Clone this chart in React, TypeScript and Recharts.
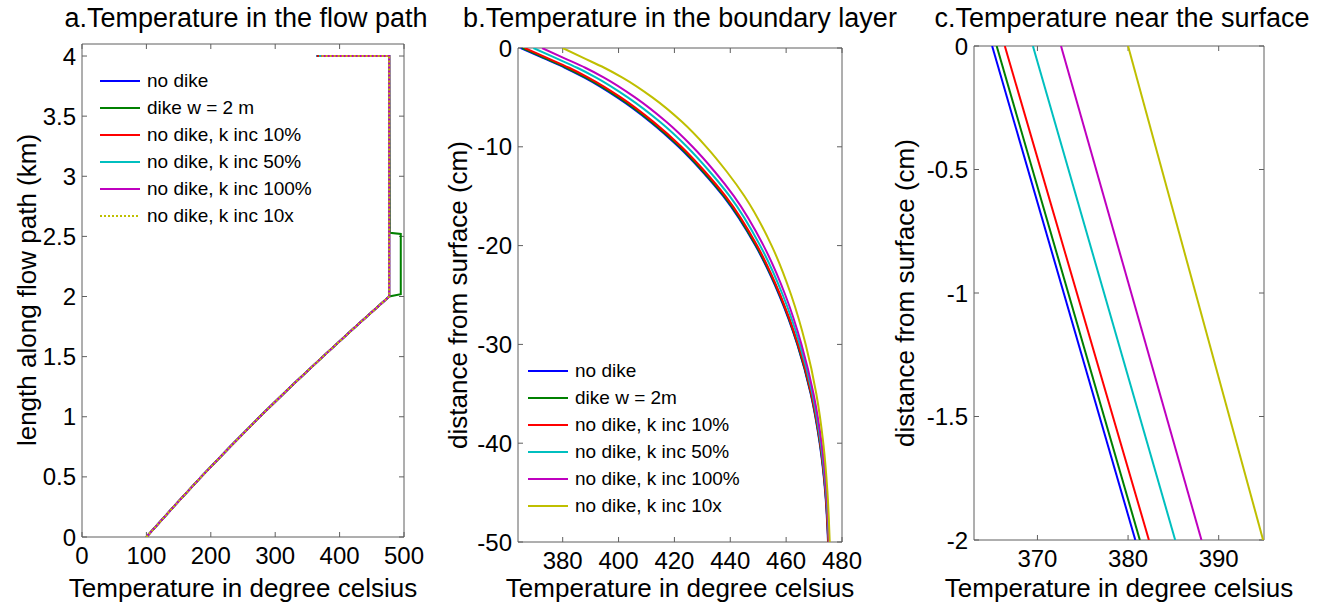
import React from 'react'
import { ScatterChart, Scatter, XAxis, YAxis } from 'recharts'

// Three side-by-side Matlab-style panels of temperature profiles.

const FONT = '"Liberation Sans", Arial, Helvetica, sans-serif'
const AXIS = '#5f5f5f'

const seriesNamesA = ['no dike', 'dike w = 2 m', 'no dike, k inc 10%', 'no dike, k inc 50%', 'no dike, k inc 100%', 'no dike, k inc 10x']
const seriesNamesB = ['no dike', 'dike w = 2m', 'no dike, k inc 10%', 'no dike, k inc 50%', 'no dike, k inc 100%', 'no dike, k inc 10x']
const seriesColors = ['#0000ff', '#008000', '#ff0000', '#00bfbf', '#bf00bf', '#bfbf00']

// ── a. flow path: temperature (°C) against length along path (km) ────────────
const flowKm = [0, 0.25, 0.5, 0.75, 1, 1.25, 1.5, 1.75, 2.0, 4.0, 4.0]
const flowT = [100, 142, 185, 230, 276, 324, 374, 425, 477, 477]
// temperature where each run ends on the top segment (km 4)
const flowTopEndT = [364, 364.5, 365.5, 368, 371, 372]
// the dike run bulges out between 2.0 and 2.5 km
const dikeKm = [0, 0.25, 0.5, 0.75, 1, 1.25, 1.5, 1.75, 2.0, 2.02, 2.52, 2.53, 4.0, 4.0]
const dikeT = [100, 142, 185, 230, 276, 324, 374, 425, 477, 495, 495, 478, 477, 364.5]

const xTicksA = [0, 100, 200, 300, 400, 500]
const yTicksA = [0, 0.5, 1, 1.5, 2, 2.5, 3, 3.5, 4]

// ── b. boundary layer: temperature against depth (cm) ────────────────────────
const depthB = [0, -1, -2, -3, -5, -7.5, -10, -12.5, -15, -20, -25, -30, -35, -40, -45, -50]
const layerNoDike = [365.0, 372.9, 380.8, 387.8, 399.5, 411.5, 421.5, 430.0, 437.5, 449.0, 457.5, 464.0, 468.8, 472.0, 474.0, 475.0]
const layerDike = [365.5, 373.4, 381.3, 388.3, 400.0, 411.9, 421.9, 430.3, 437.8, 449.2, 457.7, 464.1, 468.9, 472.1, 474.1, 475.1]
const layerK10 = [366.4, 374.4, 382.3, 389.2, 400.8, 412.6, 422.5, 430.9, 438.3, 449.6, 457.9, 464.3, 469.0, 472.2, 474.1, 475.1]
const layerK50 = [369.5, 377.4, 385.2, 392.0, 403.3, 414.9, 424.5, 432.6, 439.8, 450.7, 458.8, 464.9, 469.4, 472.4, 474.3, 475.3]
const layerK100 = [372.6, 380.3, 388.1, 394.8, 405.9, 417.2, 426.5, 434.4, 441.3, 451.9, 459.7, 465.5, 469.8, 472.7, 474.5, 475.4]
const layerK10x = [380.0, 387.4, 394.9, 401.4, 412.1, 422.8, 431.4, 438.7, 445.1, 454.8, 461.8, 467.0, 470.8, 473.3, 474.8, 475.6]

const xTicksB = [380, 400, 420, 440, 460, 480]
const yTicksB = [0, -10, -20, -30, -40, -50]

// ── c. near the surface ───────────────────────────────────────────────────────
const depthC = [0, -2]
const surfNoDike = [365.0, 380.8]
const surfDike = [365.5, 381.3]
const surfK10 = [366.4, 382.3]
const surfK50 = [369.5, 385.2]
const surfK100 = [372.6, 388.1]
const surfK10x = [380.0, 394.9]

const xTicksC = [370, 380, 390]
const yTicksC = [0, -0.5, -1, -1.5, -2]

type Pt = { x: number; y: number }
type Series = { name: string; color: string; dash?: string; points: Pt[] }
type Box = { left: number; right: number; top: number; bottom: number }

const zip = (xs: number[], ys: number[]): Pt[] => xs.map((x, i) => ({ x, y: ys[i] }))

const flowSeries: Series[] = seriesNamesA.map((name, i) => ({
  name,
  color: seriesColors[i],
  dash: i === 5 ? '2 2' : undefined,
  points: i === 1 ? zip(dikeT, dikeKm) : zip([...flowT, flowTopEndT[i]], flowKm),
}))

const layerSeries: Series[] = [layerNoDike, layerDike, layerK10, layerK50, layerK100, layerK10x].map((t, i) => ({
  name: seriesNamesB[i],
  color: seriesColors[i],
  points: zip(t, depthB),
}))

const surfSeries: Series[] = [surfNoDike, surfDike, surfK10, surfK50, surfK100, surfK10x].map((t, i) => ({
  name: seriesNamesB[i],
  color: seriesColors[i],
  points: zip(t, depthC),
}))

const EmptyShape = () => <g />
const NoLabel = () => <g />

interface PanelProps {
  box: Box
  xDomain: [number, number]
  yDomain: [number, number]
  xTicks: number[]
  yTicks: number[]
  series: Series[]
  curve?: 'linear' | 'monotoneY'
}

function Panel({ box, xDomain, yDomain, xTicks, yTicks, series, curve = 'linear' }: PanelProps) {
  const leftW = 80, rightW = 30, topH = 10, bottomH = 40
  const width = box.right - box.left + leftW + rightW
  const tickStyle = { fill: '#000', fontSize: 24, fontFamily: FONT }
  return (
    <div style={{ position: 'absolute', left: box.left - leftW, top: 0 }}>
      <ScatterChart
        width={width}
        height={606}
        margin={{ top: box.top - topH, right: 0, bottom: 606 - box.bottom - bottomH, left: 0 }}
      >
        <XAxis xAxisId="b" type="number" dataKey="x" domain={xDomain} ticks={xTicks} interval={0}
          allowDataOverflow height={bottomH} tickSize={-5} tickMargin={15} stroke={AXIS} tick={tickStyle} />
        <XAxis xAxisId="t" orientation="top" type="number" dataKey="x" domain={xDomain} ticks={xTicks} interval={0}
          allowDataOverflow height={topH} tickSize={-5} stroke={AXIS} tick={NoLabel} />
        <YAxis yAxisId="l" type="number" dataKey="y" domain={yDomain} ticks={yTicks} interval={0}
          allowDataOverflow width={leftW} tickSize={-5} tickMargin={11} stroke={AXIS} tick={tickStyle} />
        <YAxis yAxisId="r" orientation="right" type="number" dataKey="y" domain={yDomain} ticks={yTicks} interval={0}
          allowDataOverflow width={rightW} tickSize={-5} stroke={AXIS} tick={NoLabel} />
        {series.map((s) => (
          <Scatter
            key={s.name}
            name={s.name}
            data={s.points}
            xAxisId="b"
            yAxisId="l"
            fill={s.color}
            line={{ stroke: s.color, strokeWidth: 2, strokeDasharray: s.dash }}
            lineType="joint"
            lineJointType={curve}
            shape={EmptyShape}
            isAnimationActive={false}
          />
        ))}
      </ScatterChart>
    </div>
  )
}

function LegendBox({ series, left, top, gap }: { series: Series[]; left: number; top: number; gap: number }) {
  return (
    <div style={{ position: 'absolute', left, top, fontFamily: FONT, fontSize: 19 }}>
      {series.map((s, i) => (
        <div key={s.name} style={{ position: 'absolute', top: i * gap, left: 0, display: 'flex', alignItems: 'center', whiteSpace: 'nowrap', height: 20, transform: 'translateY(-50%)' }}>
          <svg width={40} height={4} style={{ marginRight: 7 }}>
            <line x1={0} y1={2} x2={40} y2={2} stroke={s.color} strokeWidth={2} strokeDasharray={s.dash} />
          </svg>
          <span>{s.name}</span>
        </div>
      ))}
    </div>
  )
}

function Label({ text, x, y, size, rotate }: { text: string; x: number; y: number; size: number; rotate?: boolean }) {
  return (
    <div style={{
      position: 'absolute', left: x, top: y, fontFamily: FONT, fontSize: size, lineHeight: 1,
      whiteSpace: 'nowrap', transform: `translate(-50%, -50%)${rotate ? ' rotate(-90deg)' : ''}`,
    }}>
      {text}
    </div>
  )
}

const boxA: Box = { left: 82, right: 404, top: 44, bottom: 537 }
const boxB: Box = { left: 518, right: 842, top: 48, bottom: 542 }
const boxC: Box = { left: 974, right: 1264, top: 46, bottom: 540 }

export default function App() {
  return (
    <div style={{ position: 'absolute', left: 0, top: 0, width: 1325, height: 606, background: '#fff', overflow: 'hidden' }}>
      <Panel box={boxA} xDomain={[0, 500]} yDomain={[0, 4.1]} xTicks={xTicksA} yTicks={yTicksA} series={flowSeries} />
      <Panel box={boxB} xDomain={[364, 480]} yDomain={[-50, 0]} xTicks={xTicksB} yTicks={yTicksB} series={layerSeries} curve="monotoneY" />
      <Panel box={boxC} xDomain={[363, 395]} yDomain={[-2, 0]} xTicks={xTicksC} yTicks={yTicksC} series={surfSeries} />

      <LegendBox series={flowSeries} left={100} top={81} gap={27} />
      <LegendBox series={layerSeries} left={528} top={371} gap={27} />

      <Label text="a.Temperature in the flow path" x={246} y={18} size={27} />
      <Label text="b.Temperature in the boundary layer" x={680} y={18} size={27} />
      <Label text="c.Temperature near the surface" x={1122} y={18} size={27} />

      <Label text="Temperature in degree celsius" x={243} y={588} size={26} />
      <Label text="Temperature in degree celsius" x={680} y={588} size={26} />
      <Label text="Temperature in degree celsius" x={1119} y={588} size={26} />

      <Label text="length along flow path (km)" x={27} y={290} size={26} rotate />
      <Label text="distance from surface (cm)" x={458} y={295} size={26} rotate />
      <Label text="distance from surface (cm)" x={905} y={293} size={26} rotate />
    </div>
  )
}
